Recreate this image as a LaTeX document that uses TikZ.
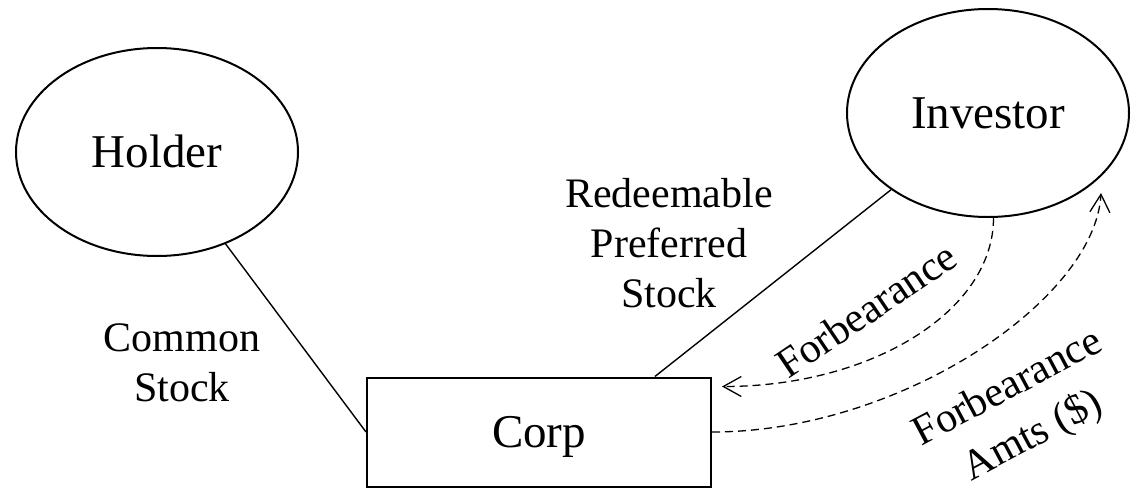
\documentclass[tikz,border=0pt]{standalone}
\usepackage{fontspec}
\setmainfont{Liberation Serif}
\usetikzlibrary{shapes.geometric,arrows.meta,calc}
\begin{document}
\begin{tikzpicture}[x=1pt,y=-1pt,
  party/.style={ellipse,draw,line width=2pt,minimum width=282pt,minimum height=208pt,
    inner sep=0pt,font=\fontsize{47}{56}\selectfont,text height=31pt,text depth=0pt},
  firm/.style={rectangle,draw,line width=2pt,minimum width=344pt,minimum height=109pt,
    inner sep=0pt,font=\fontsize{47}{56}\selectfont,text height=31pt,text depth=0pt},
  lbl/.style={align=center,inner sep=0pt,font=\fontsize{42}{50}\selectfont},
  link/.style={line width=1.4pt},
  flow/.style={line width=1.3pt,dash pattern=on 8pt off 5pt,
    -{Straight Barb[length=18pt,width=20pt,line width=1.3pt]}}]
\useasboundingbox (0,0) rectangle (1132,490);

% parties and the corporation
\node[party] (holder) at (157,152) {Holder};
\node[party] (investor) at (988,113) {Investor};
\node[firm] (corp) at (539,432) {Corp};

% stock holdings
\draw[link] (holder) -- (corp.west);
\draw[link] (investor) -- ($(corp.north)!0.67!(corp.north east)$);

% forbearance flows
\coordinate (fback) at ($(corp.north east)+(10,10)$);
\coordinate (ftip) at ($(investor)+(113,80)$);
\draw[flow] (investor.-87) .. controls +(0,93) and +(150,0) .. (fback);
\draw[flow] (corp.east) .. controls +(188,0) and +(-6,107) .. (ftip);

% labels
\node[lbl] (common) at (182,363) {Common\\Stock};
\node[lbl] (pref) at (669,243) {Redeemable\\Preferred\\Stock};
\node[lbl,rotate=34] (forb) at (866,310) {Forbearance};
\node[lbl,rotate=28,font=\fontsize{42}{54}\selectfont] (amts) at (1021,413) {Forbearance\\Amts (\$)};
\end{tikzpicture}
\end{document}
